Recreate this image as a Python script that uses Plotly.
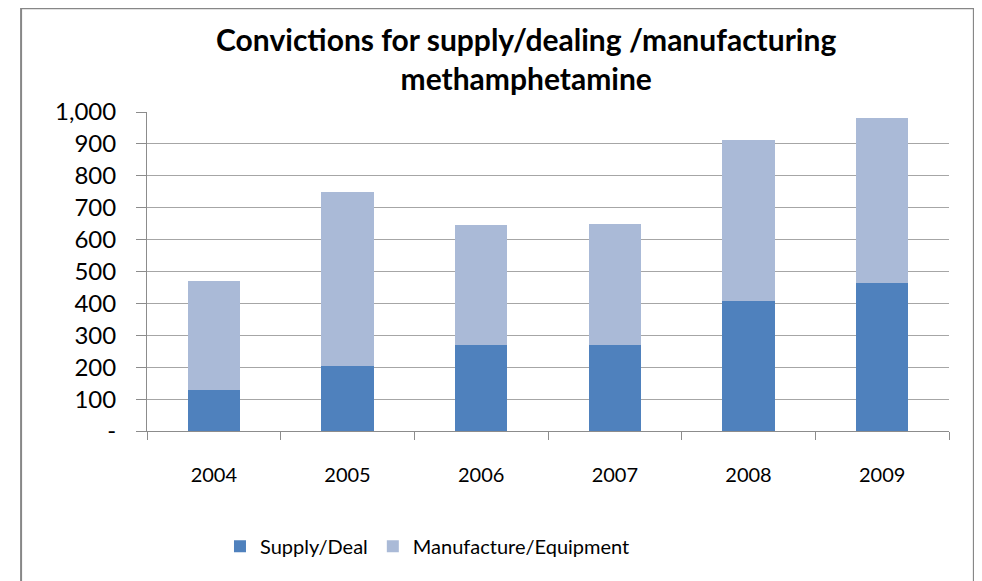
import plotly.graph_objects as go

years = ["2004", "2005", "2006", "2007", "2008", "2009"]
supply_deal = [130, 205, 271, 271, 408, 464]
manufacture_equipment = [341, 544, 374, 378, 505, 518]

y_tickvals = [0, 100, 200, 300, 400, 500, 600, 700, 800, 900, 1000]
y_ticktext = ["-", "100", "200", "300", "400", "500", "600", "700", "800", "900", "1,000"]

C = {
    "supply": "#4F81BD",
    "manuf":  "#AABAD7",
    "grid":   "#A6A6A6",
    "axis":   "#8C8C8C",
    "frame":  "#878787",
    "text":   "#000000",
}
FONT = "Lato, Carlito, Calibri, sans-serif"

fig = go.Figure()
fig.add_trace(go.Bar(x=years, y=supply_deal, name="Supply/Deal",
                     marker=dict(color=C["supply"], line=dict(width=0))))
fig.add_trace(go.Bar(x=years, y=manufacture_equipment, name="Manufacture/Equipment",
                     marker=dict(color=C["manuf"], line=dict(width=0))))

# outer chart frame (Excel style border)
fig.add_shape(type="rect", xref="paper", yref="paper",
              x0=-0.157, x1=1.031, y0=-0.6, y1=1.325,
              line=dict(color=C["frame"], width=2), fillcolor="rgba(0,0,0,0)",
              layer="below")

fig.update_layout(
    width=974, height=573,
    paper_bgcolor="white", plot_bgcolor="white",
    font=dict(family=FONT, color=C["text"], size=20),
    margin=dict(l=139, r=33, t=104, b=150),
    barmode="stack", bargap=0.61,
    showlegend=True,
    title=dict(text="<b>Convictions for supply/dealing /manufacturing<br>methamphetamine</b>",
               font=dict(size=30, color=C["text"]),
               x=0.532, xanchor="center", y=0.925, yanchor="top"),
    legend=dict(orientation="h", x=0.091, xanchor="left", y=-0.361, yanchor="middle",
                font=dict(size=20), traceorder="normal", itemwidth=30),
)

fig.update_xaxes(
    type="category", showline=True, linecolor=C["axis"], linewidth=1,
    ticks="outside", tickson="boundaries", ticklen=8, tickcolor=C["axis"],
    showgrid=False, tickfont=dict(size=20), ticklabelstandoff=26,
)
fig.update_yaxes(
    range=[0, 1000], tickvals=y_tickvals, ticktext=y_ticktext,
    showline=True, linecolor=C["axis"], linewidth=1,
    ticks="outside", ticklen=10, tickcolor=C["axis"],
    showgrid=True, gridcolor=C["grid"], gridwidth=1, zeroline=False,
    tickfont=dict(size=24), ticklabelstandoff=15,
)

fig.write_html("out.html")
